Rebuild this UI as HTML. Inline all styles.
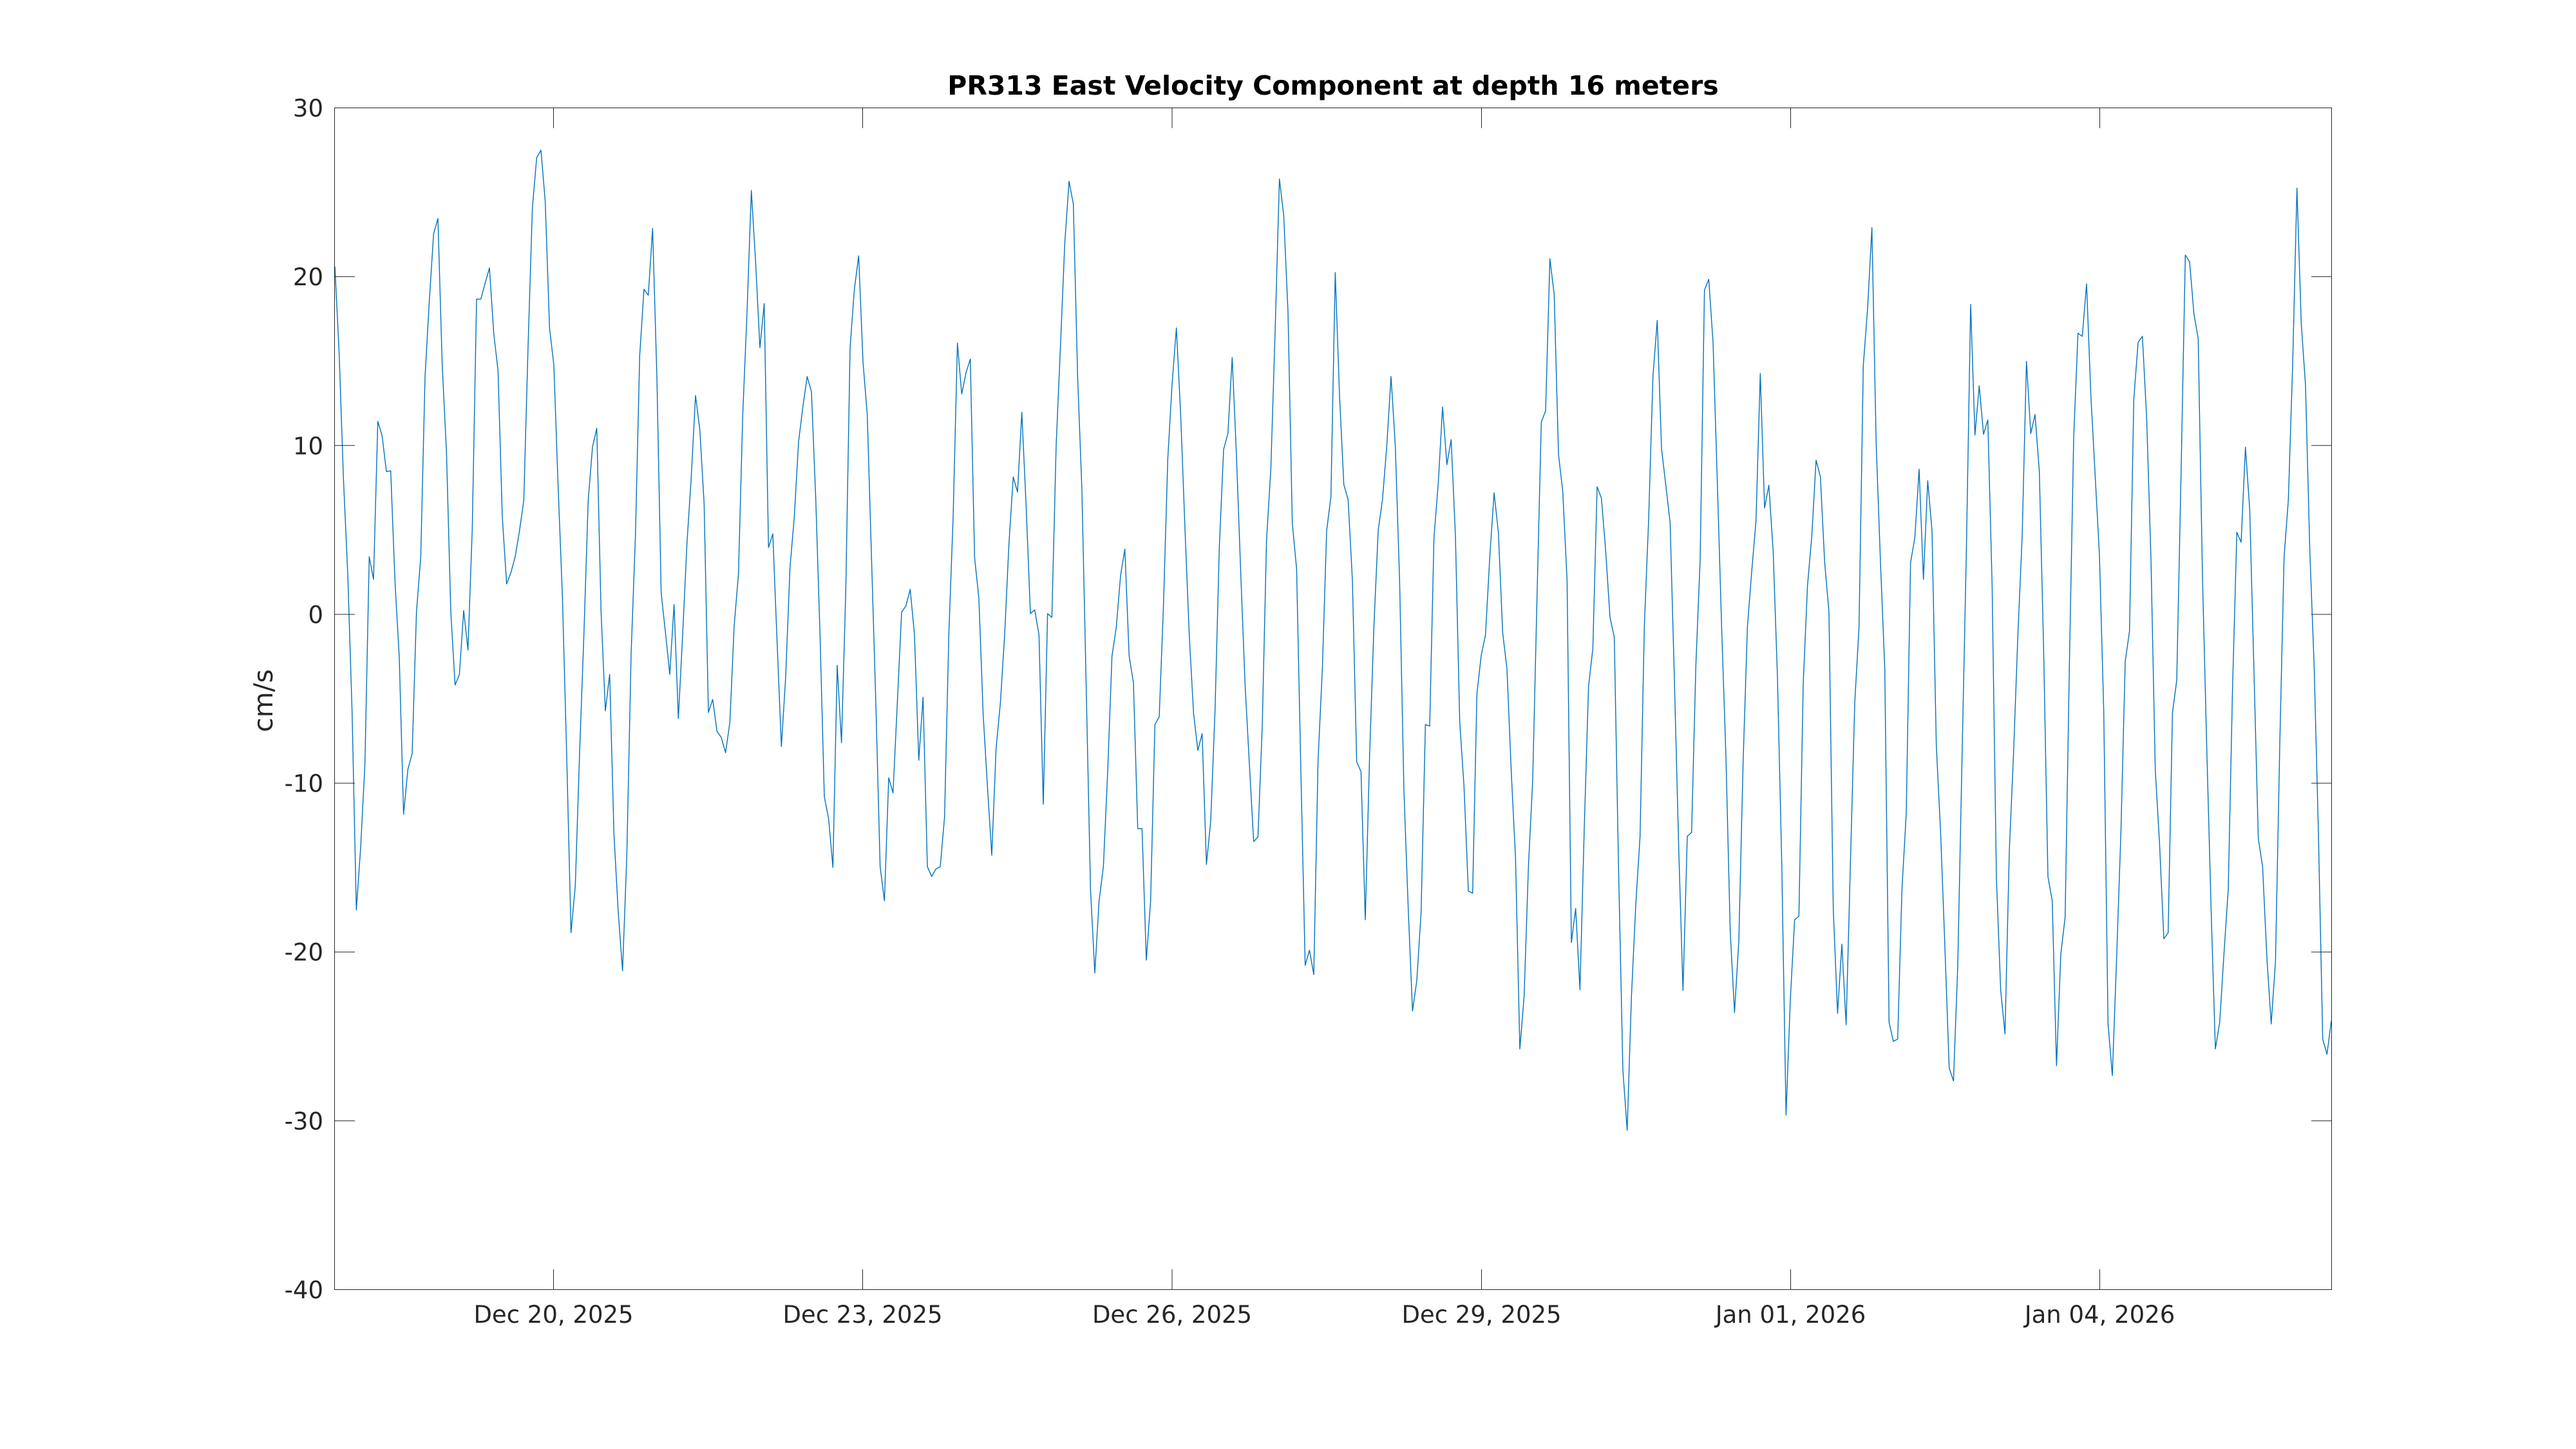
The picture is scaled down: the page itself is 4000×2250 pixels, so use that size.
<!DOCTYPE html>
<html>
<head>
<meta charset="utf-8">
<style>
  html, body { margin: 0; padding: 0; background: #ffffff; }
  svg { display: block; }
  text { font-family: "DejaVu Sans", "Liberation Sans", sans-serif; }
</style>
</head>
<body>
<svg width="4000" height="2250" viewBox="0 0 4000 2250" xmlns="http://www.w3.org/2000/svg">
  <rect x="0" y="0" width="4000" height="2250" fill="#ffffff"/>

  <g transform="translate(520,160) scale(6.6667,1.1798)">
    <polyline fill="none" stroke="#0072BD" stroke-width="1.4" vector-effect="non-scaling-stroke" stroke-linejoin="round"
      points="0,215 1,330 2,495 3,620 4,800 5,1062 6,980 7,870 8,597 9,627
10,419 11,438 12,485 13,484 14,630 15,730 16,936 17,877 18,856 19,670
20,597 21,360 22,260 23,172 24,152 25,345 26,460 27,670 28,766 29,752
30,668 31,720 32,560 33,258 34,258 35,237 36,217 37,303 38,352 39,545
40,633 41,618 42,597 43,563 44,523 45,320 46,138 47,72 48,62 49,130
50,296 51,345 52,505 53,650 54,860 55,1092 56,1030 57,855 58,700 59,523
60,453 61,428 62,670 63,800 64,752 65,962 66,1065 67,1142 68,990 69,725
70,570 71,332 72,245 73,253 74,165 75,360 76,645 77,697 78,752 79,660
80,810 81,700 82,580 83,493 84,385 85,430 86,527 87,802 88,785 89,827
90,835 91,855 92,815 93,688 94,620 95,410 96,275 97,115 98,210 99,322
100,264 101,585 102,567 103,710 104,847 105,755 106,612 107,545 108,446 109,400
110,360 111,380 112,520 113,700 114,913 115,942 116,1006 117,740 118,842 119,640
120,322 121,245 122,201 123,340 124,410 125,600 126,790 127,1005 128,1050 129,888
130,908 131,790 132,670 133,662 134,640 135,700 136,865 137,782 138,1005 139,1018
140,1008 141,1005 142,940 143,700 144,545 145,316 146,383 147,355 148,337 149,598
150,652 151,805 152,900 153,990 154,850 155,790 156,700 157,580 158,492 159,512
160,407 161,530 162,672 163,667 164,700 165,923 166,672 167,677 168,450 169,320
170,185 171,103 172,133 173,360 174,510 175,770 176,1035 177,1145 178,1050 179,1005
180,880 181,728 182,690 183,622 184,587 185,728 186,763 187,955 188,955 189,1128
190,1050 191,818 192,808 193,660 194,468 195,370 196,296 197,410 198,560 199,700
200,803 201,852 202,830 203,1002 204,945 205,800 206,585 207,456 208,435 209,335
210,465 211,620 212,765 213,870 214,972 215,966 216,820 217,575 218,482 219,300
220,100 221,148 222,275 223,553 224,613 225,880 226,1135 227,1115 228,1147 229,865
230,745 231,563 232,518 233,223 234,385 235,502 236,522 237,628 238,867 239,880
240,1075 241,860 242,690 243,563 244,522 245,452 246,360 247,452 248,630 249,905
250,1060 251,1195 252,1155 253,1065 254,818 255,820 256,572 257,500 258,400 259,476
260,443 261,570 262,815 263,900 264,1037 265,1040 266,778 267,727 268,700 269,597
270,513 271,565 272,697 273,745 274,880 275,995 276,1245 277,1175 278,1005 279,890
280,650 281,420 282,405 283,205 284,252 285,462 286,512 287,628 288,1105 289,1060
290,1167 291,955 292,768 293,718 294,505 295,520 296,590 297,677 298,703 299,1010
300,1273 301,1352 302,1175 303,1055 304,965 305,688 306,548 307,360 308,286 309,455
310,503 311,552 312,760 313,980 314,1168 315,965 316,960 317,740 318,600 319,246
320,232 321,315 322,500 323,690 324,860 325,1090 326,1197 327,1103 328,868 329,690
330,617 331,550 332,356 333,533 334,503 335,590 336,755 337,1000 338,1332 339,1180
340,1075 341,1070 342,765 343,635 344,570 345,470 346,492 347,605 348,670 349,1060
350,1198 351,1107 352,1213 353,1000 354,790 355,690 356,345 357,270 358,164 359,450
360,605 361,745 362,1210 363,1235 364,1232 365,1035 366,935 367,605 368,572 369,482
370,627 371,497 372,563 373,845 374,960 375,1110 376,1270 377,1287 378,1135 379,860
380,590 381,265 382,437 383,372 384,436 385,417 386,635 387,1020 388,1168 389,1225
390,985 391,855 392,700 393,570 394,340 395,435 396,410 397,485 398,720 399,1018
400,1050 401,1267 402,1120 403,1072 404,740 405,440 406,303 407,307 408,238 409,385
410,490 411,595 412,800 413,1212 414,1280 415,1125 416,960 417,735 418,695 419,390
420,315 421,307 422,415 423,600 424,877 425,975 426,1100 427,1092 428,803 429,760
430,490 431,200 432,209 433,277 434,310 435,625 436,850 437,1060 438,1245 439,1210
440,1120 441,1035 442,770 443,565 444,578 445,453 446,535 447,750 448,968 449,1005
450,1125 451,1212 452,1130 453,845 454,598 455,522 456,345 457,112 458,290 459,372
460,590 461,740 462,960 463,1232 464,1252 465,1208"/>
  </g>

  <rect x="519.5" y="167.5" width="3101" height="1835" fill="none" stroke="#262626" stroke-width="1"/>

  <g stroke="#262626" stroke-width="1">
    <line x1="520" y1="429.6" x2="551" y2="429.6"/>
    <line x1="520" y1="691.8" x2="551" y2="691.8"/>
    <line x1="520" y1="954" x2="551" y2="954"/>
    <line x1="520" y1="1216.1" x2="551" y2="1216.1"/>
    <line x1="520" y1="1478.2" x2="551" y2="1478.2"/>
    <line x1="520" y1="1740.4" x2="551" y2="1740.4"/>
    <line x1="3589" y1="429.6" x2="3620" y2="429.6"/>
    <line x1="3589" y1="691.8" x2="3620" y2="691.8"/>
    <line x1="3589" y1="954" x2="3620" y2="954"/>
    <line x1="3589" y1="1216.1" x2="3620" y2="1216.1"/>
    <line x1="3589" y1="1478.2" x2="3620" y2="1478.2"/>
    <line x1="3589" y1="1740.4" x2="3620" y2="1740.4"/>
    <line x1="859.5" y1="2002" x2="859.5" y2="1971"/>
    <line x1="1339.5" y1="2002" x2="1339.5" y2="1971"/>
    <line x1="1820" y1="2002" x2="1820" y2="1971"/>
    <line x1="2300.5" y1="2002" x2="2300.5" y2="1971"/>
    <line x1="2780.5" y1="2002" x2="2780.5" y2="1971"/>
    <line x1="3260.5" y1="2002" x2="3260.5" y2="1971"/>
    <line x1="859.5" y1="168" x2="859.5" y2="199"/>
    <line x1="1339.5" y1="168" x2="1339.5" y2="199"/>
    <line x1="1820" y1="168" x2="1820" y2="199"/>
    <line x1="2300.5" y1="168" x2="2300.5" y2="199"/>
    <line x1="2780.5" y1="168" x2="2780.5" y2="199"/>
    <line x1="3260.5" y1="168" x2="3260.5" y2="199"/>
  </g>

  <g font-size="37" fill="#262626" text-anchor="end">
    <text x="502" y="181">30</text>
    <text x="502" y="443.1">20</text>
    <text x="502" y="705.3">10</text>
    <text x="502" y="967.5">0</text>
    <text x="502" y="1229.6">-10</text>
    <text x="502" y="1491.7">-20</text>
    <text x="502" y="1753.9">-30</text>
    <text x="502" y="2016">-40</text>
  </g>

  <g font-size="37" fill="#262626" text-anchor="middle">
    <text x="859.5" y="2054">Dec 20, 2025</text>
    <text x="1339.5" y="2054">Dec 23, 2025</text>
    <text x="1820" y="2054">Dec 26, 2025</text>
    <text x="2300.5" y="2054">Dec 29, 2025</text>
    <text x="2780.5" y="2054">Jan 01, 2026</text>
    <text x="3260.5" y="2054">Jan 04, 2026</text>
  </g>

  <text x="0" y="0" font-size="41" fill="#262626" text-anchor="middle" transform="translate(423,1088) rotate(-90)">cm/s</text>

  <text x="2070" y="147" font-size="41" font-weight="bold" fill="#000000" text-anchor="middle">PR313 East Velocity Component at depth 16 meters</text>
</svg>
</body>
</html>
